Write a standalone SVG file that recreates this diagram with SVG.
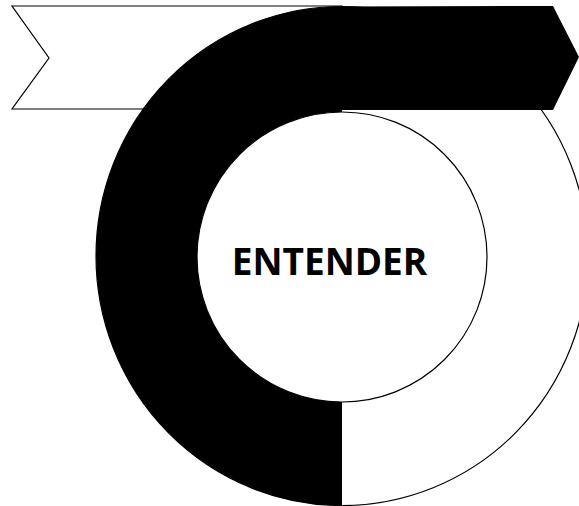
<svg xmlns="http://www.w3.org/2000/svg" width="579" height="506" viewBox="0 0 579 506">
  <style>
    .outline { fill: #ffffff; stroke: #000000; stroke-width: 1.2; }
    .solid { fill: #000000; stroke: none; }
    .label { font-family: "Open Sans", "Noto Sans", "Liberation Sans", sans-serif; font-weight: 700; font-size: 37px; fill: #000000; }
  </style>
  <rect x="0" y="0" width="579" height="506" fill="#ffffff"/>
  <g id="tail-chevron">
    <polygon class="outline" points="12,6 342,6 342,109 12,109 49,58"/>
  </g>
  <g id="ring">
    <ellipse class="outline" cx="342" cy="256" rx="246" ry="249.5"/>
    <path class="solid" d="M342,505.5 A246,249.5 0 0 1 342,6.5 L553,6 L579,57 L553,110 L342,110 L342,112 A145,145 0 0 0 342,402 Z"/>
  </g>
  <g id="center">
    <circle class="outline" cx="342" cy="257" r="145"/>
    <text class="label" x="329.5" y="275" text-anchor="middle">ENTENDER</text>
  </g>
</svg>
